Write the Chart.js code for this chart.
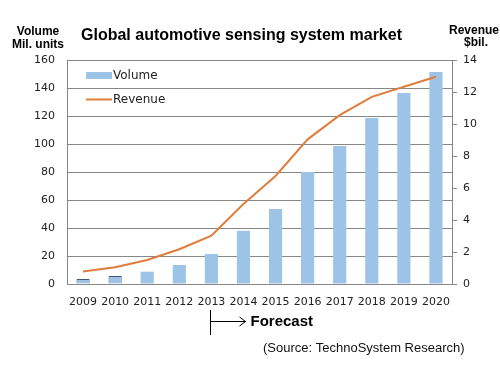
<!DOCTYPE html>
<html>
<head>
<meta charset="utf-8">
<script src="https://cdn.jsdelivr.net/npm/chart.js@4.4.0/dist/chart.umd.min.js"></script>
<style>
  body { margin: 0; background: #fff; }
</style>
</head>
<body>
<canvas id="grafico" width="500" height="370"></canvas>
<script>
// dados do gráfico
const anos = ['2009', '2010', '2011', '2012', '2013', '2014', '2015', '2016', '2017', '2018', '2019', '2020'];
const volume = [3.5, 5.7, 8.8, 13.6, 21.4, 38, 53.6, 80, 98.6, 118.6, 136.4, 151.4];
const receita = [0.78, 1.05, 1.5, 2.17, 3.02, 5.0, 6.75, 9.04, 10.55, 11.7, 12.33, 12.95];
const ticksVolume = [0, 20, 40, 60, 80, 100, 120, 140, 160];
const ticksReceita = [0, 2, 4, 6, 8, 10, 12, 14];

const corBarra = 'rgb(157,195,230)';
const corLinha = 'rgb(224,125,60)';
const corGrade = '#878787';
const fonteTick = { family: 'DejaVu Sans', size: 11 };

// textos extras: titulo, rotulos dos eixos, legenda, forecast, fonte
const extras = {
  id: 'extras',
  afterDraw(chart) {
    const ctx = chart.ctx;
    ctx.save();
    ctx.fillStyle = '#000';
    ctx.textBaseline = 'middle';
    ctx.textAlign = 'center';
    ctx.font = 'bold 12px "Liberation Sans", Arial, sans-serif';
    ctx.fillText('Volume', 38, 32);
    ctx.fillText('Mil. units', 38, 45);
    ctx.fillText('Revenue', 474, 31);
    ctx.fillText('$bil.', 476, 43);
    ctx.textAlign = 'left';
    ctx.font = 'bold 16px "Liberation Sans", Arial, sans-serif';
    ctx.fillText('Global automotive sensing system market', 81, 36);

    // legenda dentro da area
    ctx.fillStyle = corBarra;
    ctx.fillRect(86, 72, 26, 7);
    ctx.strokeStyle = corLinha;
    ctx.lineWidth = 2;
    ctx.beginPath();
    ctx.moveTo(86, 99.5);
    ctx.lineTo(112, 99.5);
    ctx.stroke();
    ctx.fillStyle = '#222';
    ctx.font = '12px "DejaVu Sans", sans-serif';
    ctx.fillText('Volume', 113, 76);
    ctx.fillText('Revenue', 113, 100);

    // seta forecast a partir de 2013
    const x = Math.round(chart.scales.x.getPixelForValue(4)) - 0.5;
    ctx.strokeStyle = '#000';
    ctx.lineWidth = 1;
    ctx.beginPath();
    ctx.moveTo(x, 310);
    ctx.lineTo(x, 335);
    ctx.moveTo(x, 321.5);
    ctx.lineTo(x + 35, 321.5);
    ctx.moveTo(x + 29, 317);
    ctx.lineTo(x + 35, 321.5);
    ctx.lineTo(x + 29, 326);
    ctx.stroke();
    ctx.fillStyle = '#000';
    ctx.font = 'bold 15px "Liberation Sans", Arial, sans-serif';
    ctx.fillText('Forecast', x + 40, 322);

    ctx.font = '13px "Liberation Sans", Arial, sans-serif';
    ctx.fillStyle = '#111';
    ctx.fillText('(Source: TechnoSystem Research)', 263, 348);
    ctx.restore();
  }
};

new Chart(document.getElementById('grafico'), {
  type: 'bar',
  data: {
    labels: anos,
    datasets: [{
      type: 'line',
      label: 'Revenue',
      data: receita,
      yAxisID: 'y2',
      borderColor: corLinha,
      borderWidth: 2,
      pointRadius: 0,
      tension: 0,
      order: 0
    }, {
      type: 'bar',
      label: 'Volume',
      data: volume,
      yAxisID: 'y',
      backgroundColor: corBarra,
      borderColor: ['#3c5a78', '#3c5a78', corBarra, corBarra, corBarra, corBarra, corBarra, corBarra, corBarra, corBarra, corBarra, corBarra],
      borderWidth: [1, 1, 0, 0, 0, 0, 0, 0, 0, 0, 0, 0],
      categoryPercentage: 1,
      barPercentage: 0.41,
      order: 1
    }]
  },
  options: {
    responsive: false,
    animation: false,
    layout: { padding: { top: 60, left: 0, right: 0, bottom: 0 } },
    plugins: { legend: { display: false }, tooltip: { enabled: false } },
    scales: {
      x: {
        grid: { display: false, drawTicks: false },
        border: { color: corGrade },
        ticks: { color: '#222', font: fonteTick, padding: 12, maxRotation: 0, autoSkip: false },
        afterFit(s) { s.height = 86; }
      },
      y: {
        position: 'left',
        min: 0, max: 160,
        afterBuildTicks(s) { s.ticks = ticksVolume.map(v => ({ value: v })); },
        grid: { color: corGrade, drawTicks: false },
        border: { color: corGrade },
        ticks: { color: '#222', font: fonteTick, padding: 12 },
        afterFit(s) { s.width = 67; }
      },
      y2: {
        position: 'right',
        min: 0, max: 14,
        afterBuildTicks(s) { s.ticks = ticksReceita.map(v => ({ value: v })); },
        grid: { drawOnChartArea: false, color: corGrade, tickLength: 5 },
        border: { color: corGrade },
        ticks: { color: '#222', font: fonteTick, padding: 6 },
        afterFit(s) { s.width = 48; }
      }
    }
  },
  plugins: [extras]
});
</script>
</body>
</html>
